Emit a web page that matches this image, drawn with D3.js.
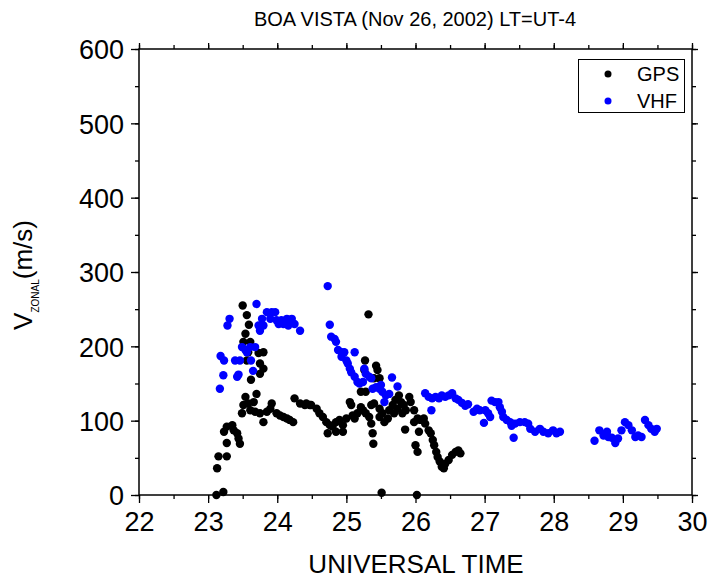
<!DOCTYPE html>
<html>
<head>
<meta charset="utf-8">
<script src="https://cdn.jsdelivr.net/npm/d3@7"></script>
<style>
  html, body { margin: 0; padding: 0; background: #fff; }
  svg { display: block; font-family: "Liberation Sans", Arial, Helvetica, sans-serif; }
</style>
</head>
<body>
<svg id="chart" width="709" height="579"></svg>
<script>
// ---- data ----
const titleText = "BOA VISTA (Nov 26, 2002) LT=UT-4";
const xTicks = [22, 23, 24, 25, 26, 27, 28, 29, 30];
const yTicks = [0, 100, 200, 300, 400, 500, 600];
const seriesNames = ["GPS", "VHF"];
const seriesColors = ["#000000", "#0000ff"];

const gpsUT = [23.12,23.22,23.13,23.15,23.27,23.27,23.23,23.27,23.35,23.37,23.42,23.44,23.46,
  23.50,23.56,23.59,23.54,23.51,23.61,23.58,23.73,23.80,23.56,23.75,23.80,23.75,23.62,
  23.54,23.70,23.51,23.58,23.66,23.49,23.61,23.68,23.75,23.80,23.85,23.92,23.90,23.99,24.04,24.09,24.14,24.18,24.23,
  24.25,24.33,24.40,24.47,24.42,24.49,24.57,24.61,24.66,24.71,24.76,24.73,24.80,24.85,24.85,24.90,24.95,24.95,
  25.00,25.05,25.07,25.09,25.12,25.16,25.21,25.24,25.28,25.33,25.36,25.38,25.39,
  25.32,25.27,25.21,25.28,25.26,25.43,25.45,25.48,25.40,25.36,25.40,25.48,25.48,25.52,25.55,25.60,25.62,25.67,25.69,
  25.71,25.74,25.76,25.79,25.81,25.83,25.86,25.91,25.93,25.98,25.85,25.98,26.03,26.07,26.12,26.14,26.05,26.00,26.03,
  26.19,26.22,26.25,26.27,26.30,26.32,26.35,26.38,26.41,26.43,26.48,26.53,26.58,26.62,26.65,25.51,26.02];
const gpsV = [0,4,36,52,52,70,85,92,94,87,83,76,69,
  255,242,229,217,206,206,192,191,192,181,177,170,163,155,
  132,136,121,123,125,110,114,112,110,98,112,123,116,110,107,105,103,101,98,
  130,123,121,121,123,121,116,110,105,98,94,83,92,98,85,101,94,85,
  103,125,121,107,103,110,118,114,110,105,96,83,69,
  243,181,139,139,168,174,168,157,157,121,123,116,105,110,98,103,114,121,110,
  128,116,134,125,110,121,114,132,125,114,88,98,103,101,103,96,85,67,58,
  87,83,74,67,58,51,45,38,36,42,47,54,58,60,56,3,0];

const vhfUT = [23.17,23.18,23.23,23.22,23.28,23.31,23.39,23.46,23.44,23.42,23.49,23.54,23.61,23.68,23.56,23.62,23.65,
  23.70,23.73,23.75,23.78,23.80,23.85,23.92,23.97,23.90,23.99,24.02,24.06,24.09,24.14,24.16,24.21,24.25,24.33,
  24.73,24.76,24.78,24.83,24.85,24.88,24.93,24.97,25.12,24.93,25.00,25.02,25.05,25.07,25.12,25.16,25.19,25.24,
  25.26,25.28,25.33,25.36,25.38,25.43,25.48,25.50,25.52,25.57,25.62,25.55,25.66,25.74,
  26.14,26.19,26.24,26.23,26.29,26.34,26.38,26.43,26.48,26.53,26.58,26.62,26.67,26.72,26.76,26.84,26.89,26.93,
  27.01,27.05,27.08,26.99,27.10,27.15,27.20,27.22,27.25,27.27,27.32,27.37,27.39,27.42,27.44,27.51,27.58,27.63,
  27.66,27.73,27.80,27.85,27.92,27.99,28.04,28.09,
  28.59,28.66,28.72,28.77,28.79,28.84,28.89,28.93,28.98,29.03,29.08,29.13,29.18,29.22,29.27,29.32,29.37,29.41,29.46,29.49];
const vhfV = [143,187,181,161,228,237,181,181,162,159,199,195,199,199,192,181,167,
  257,228,221,237,228,246,246,246,237,235,230,235,230,237,228,237,230,221,
  281,229,213,210,206,195,192,192,192,186,181,177,170,165,159,152,150,152,
  170,163,159,157,143,145,143,148,139,134,136,125,158,146,
  137,132,130,114,132,130,134,132,134,137,130,128,124,120,122,112,116,114,
  114,110,105,97,127,125,125,118,112,105,101,98,93,77,96,98,98,96,
  89,85,89,85,83,87,83,85,
  73,87,80,85,78,77,70,76,87,98,94,87,78,80,78,101,94,89,85,89];

// ---- layout ----
const svg = d3.select("#chart");
const pLeft = 139, pRight = 692, pTop = 49, pBottom = 495;
const x = d3.scaleLinear().domain([22, 30]).range([pLeft, pRight]);
const y = d3.scaleLinear().domain([0, 600]).range([pBottom, pTop]);

const minorX = d3.range(22, 30.001, 0.5);
const minorY = d3.range(0, 600.001, 50);
const font = '"Liberation Sans", Arial, Helvetica, sans-serif';

// frame
svg.append("rect").attr("x", pLeft).attr("y", pTop).attr("width", pRight - pLeft).attr("height", pBottom - pTop)
  .attr("fill", "none").attr("stroke", "#000").attr("stroke-width", 1.5);

// bottom axis
const bAxis = svg.append("g").attr("transform", `translate(0,${pBottom})`)
  .call(d3.axisBottom(x).tickValues(xTicks).tickFormat(d3.format("d")).tickSize(8).tickPadding(8));
svg.append("g").attr("transform", `translate(0,${pBottom})`)
  .call(d3.axisBottom(x).tickValues(minorX).tickFormat("").tickSize(4));
// top axis
svg.append("g").attr("transform", `translate(0,${pTop})`)
  .call(d3.axisTop(x).tickValues(xTicks).tickFormat("").tickSize(6));
svg.append("g").attr("transform", `translate(0,${pTop})`)
  .call(d3.axisTop(x).tickValues(minorX).tickFormat("").tickSize(4));
// left axis
const lAxis = svg.append("g").attr("transform", `translate(${pLeft},0)`)
  .call(d3.axisLeft(y).tickValues(yTicks).tickFormat(d3.format("d")).tickSize(8).tickPadding(7));
svg.append("g").attr("transform", `translate(${pLeft},0)`)
  .call(d3.axisLeft(y).tickValues(minorY).tickFormat("").tickSize(4));
// right axis
svg.append("g").attr("transform", `translate(${pRight},0)`)
  .call(d3.axisRight(y).tickValues(yTicks).tickFormat("").tickSize(6));
svg.append("g").attr("transform", `translate(${pRight},0)`)
  .call(d3.axisRight(y).tickValues(minorY).tickFormat("").tickSize(4));

svg.selectAll(".domain").remove();
svg.selectAll(".tick line").attr("stroke", "#000").attr("stroke-width", 1.3);
svg.selectAll(".tick text").attr("fill", "#000").style("font-family", font).style("font-size", "27px");
bAxis.selectAll(".tick text").attr("dy", "0.75em");
lAxis.selectAll(".tick text").attr("dy", "0.36em");

// data points
const gpsData = gpsUT.map((t, i) => ({ t, v: gpsV[i] }));
const vhfData = vhfUT.map((t, i) => ({ t, v: vhfV[i] }));

svg.append("g").selectAll("circle").data(gpsData).join("circle")
  .attr("cx", d => x(d.t)).attr("cy", d => y(d.v)).attr("r", 4.2).attr("fill", seriesColors[0]);
svg.append("g").selectAll("circle").data(vhfData).join("circle")
  .attr("cx", d => x(d.t)).attr("cy", d => y(d.v)).attr("r", 4.2).attr("fill", seriesColors[1]);

// title
svg.append("text").attr("x", 415).attr("y", 26).attr("text-anchor", "middle")
  .style("font-family", font).style("font-size", "20px").text(titleText);

// x title
svg.append("text").attr("x", 416).attr("y", 573).attr("text-anchor", "middle")
  .style("font-family", font).style("font-size", "26px").text("UNIVERSAL TIME");

// y title
const yt = svg.append("text").attr("transform", "translate(32,275) rotate(-90)").attr("text-anchor", "middle")
  .style("font-family", font).style("font-size", "26px");
yt.append("tspan").text("V");
yt.append("tspan").attr("dy", 7).style("font-size", "10px").text("ZONAL");
yt.append("tspan").attr("dy", -7).text("(m/s)");

// legend
const lg = svg.append("g");
lg.append("rect").attr("x", 578.5).attr("y", 59.5).attr("width", 106).attr("height", 53)
  .attr("fill", "#fff").attr("stroke", "#000").attr("stroke-width", 1);
seriesNames.forEach((name, i) => {
  const cy = 74 + i * 27;
  lg.append("circle").attr("cx", 608).attr("cy", cy).attr("r", 3.5).attr("fill", seriesColors[i]);
  lg.append("text").attr("x", 637).attr("y", cy + 7).style("font-family", font).style("font-size", "20px").text(name);
});
</script>
</body>
</html>
